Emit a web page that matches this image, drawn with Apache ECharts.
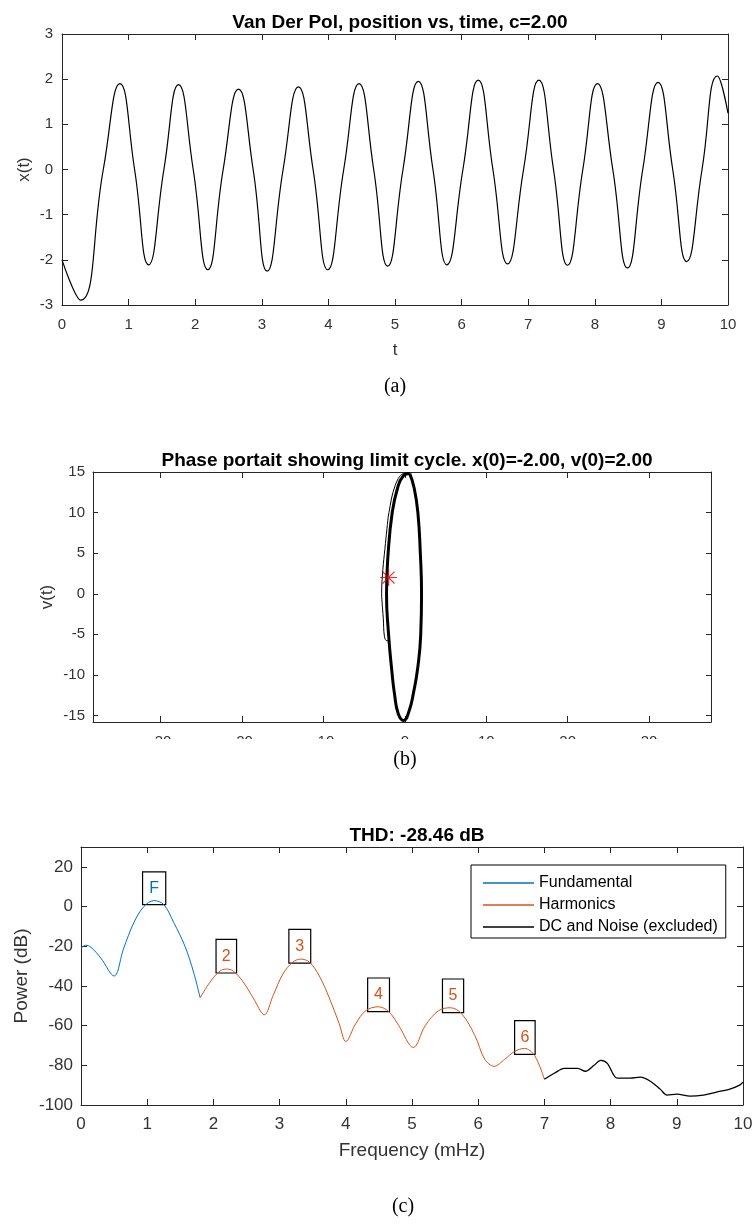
<!DOCTYPE html>
<html><head><meta charset="utf-8">
<script src="https://cdn.jsdelivr.net/npm/echarts@6/dist/echarts.min.js"></script>
<style>html,body{margin:0;padding:0;background:#fff}#c{width:755px;height:1224px}</style>
</head><body><div id="c"></div>
<script>
// ---------- (a) Van der Pol position vs time ----------
const timeS = [0, 0.28, 0.62, 0.87, 1.09, 1.30, 1.53, 1.75, 1.97, 2.19, 2.42, 2.65, 2.87, 3.08, 3.32, 3.55, 3.77, 3.99, 4.23, 4.46, 4.68, 4.89, 5.12, 5.35, 5.57, 5.78, 6.02, 6.25, 6.47, 6.69, 6.93, 7.16, 7.38, 7.59, 7.82, 8.04, 8.27, 8.49, 8.72, 8.95, 9.17, 9.38, 9.61, 9.84, 10];
const positionX = [-2.0, -2.89, 0, 1.90, 0, -2.11, 0, 1.88, 0, -2.22, 0, 1.78, 0, -2.25, 0, 1.83, 0, -2.22, 0, 1.90, 0, -2.14, 0, 1.95, 0, -2.11, 0, 1.98, 0, -2.09, 0, 1.98, 0, -2.12, 0, 1.90, 0, -2.18, 0, 1.93, 0, -2.04, 0, 2.07, 1.25];

// ---------- (b) Phase portrait ----------
const cycleX = [0.6, 1.15, 1.6, 1.9, 2.05, 1.95, 1.6, 1.1, 0.5, -0.15, -0.8, -1.25, -1.6, -2.0, -2.25, -2.05, -1.55, -0.9, -0.2, 0.6];
const cycleV = [14.8, 13, 10, 5, 0, -5, -9, -12, -14.5, -15.6, -14.8, -12.5, -9.5, -5, 0, 5, 10, 13, 14.5, 14.8];
const transX = [-1.85, -2.2, -2.5, -2.65, -2.8, -2.85, -2.7, -2.45, -2.2, -1.95, -1.2, -0.2, 0.6];
const transV = [-5.7, -5.8, -5.3, -3, -1, 0, 3, 5.5, 8, 10, 13.3, 14.8, 14.9];
const startPoint = [-2, 2];
const phaseXTicks = [-30, -20, -10, 0, 10, 20, 30];
const phaseVTicks = [-15, -10, -5, 0, 5, 10, 15];

// ---------- (c) THD spectrum ----------
const fundFreq = [0, 0.07, 0.15, 0.3, 0.5, 0.64, 0.8, 0.95, 1.1, 1.25, 1.4, 1.57, 1.7, 1.8];
const fundPow = [-21, -19.5, -20.5, -26, -35, -21.5, -8, 0, 3, 1, -8, -20, -33, -46];
const harmFreq = [1.8, 1.95, 2.1, 2.2, 2.3, 2.45, 2.6, 2.77, 2.9, 3.05, 3.2, 3.32, 3.45, 3.6, 3.75, 3.9, 4.0, 4.15, 4.3, 4.49, 4.65, 4.8, 5.02, 5.2, 5.4, 5.58, 5.75, 5.95, 6.1, 6.24, 6.4, 6.55, 6.7, 6.85, 7.0];
const harmPow = [-46, -38, -32.5, -31.5, -32.5, -38, -46, -54.5, -45, -34, -28, -26.5, -28, -35, -46, -59, -68, -59, -52.5, -50.5, -53, -60, -71, -60, -52.5, -51, -54, -65, -77, -80.5, -77, -73, -71.5, -75, -87];
const noiseFreq = [7.0, 7.15, 7.3, 7.5, 7.62, 7.75, 7.85, 7.95, 8.1, 8.3, 8.45, 8.6, 8.75, 8.85, 9.0, 9.2, 9.4, 9.6, 9.8, 9.95, 10];
const noisePow = [-87, -84, -81.5, -81.5, -83, -80, -77.5, -79, -86.5, -86.5, -86, -88, -92, -95, -94.5, -95.5, -95, -93.5, -92, -90, -88.5];
const boxLabels = ['F', '2', '3', '4', '5', '6'];
const boxFreqLo = [0.93, 2.04, 3.14, 4.33, 5.46, 6.55];
const boxFreqHi = [1.28, 2.35, 3.47, 4.66, 5.78, 6.86];
const boxPowLo = [1, -33.5, -28.5, -53, -53.5, -74.5];
const boxPowHi = [17.5, -16.5, -11.5, -36, -36.5, -57.5];
const powerTicks = [-100, -80, -60, -40, -20, 0, 20];
const legendNames = ['Fundamental', 'Harmonics', 'DC and Noise (excluded)'];

const FONT = '"Liberation Sans", Arial, Helvetica, sans-serif';
const AX = '#262626';
const TXT = '#333';
const BLUE = '#0072BD', ORANGE = '#D95319';

const zip = (a, b) => a.map((v, i) => [v, b[i]]);

function axis(dim, grid, position, o) {
  const main = position === 'bottom' || position === 'left';
  const ax = {
    type: 'value', gridIndex: grid, position: position,
    min: o.min, max: o.max,
    axisLine: {show: true, onZero: false, lineStyle: {color: AX, width: 1}},
    axisTick: {show: true, inside: true, length: o.tickLen || 6, lineStyle: {color: AX, width: 1}},
    axisLabel: {show: main, margin: o.margin, fontSize: o.fs, color: TXT, fontFamily: FONT},
    splitLine: {show: false},
    nameMoveOverlap: false
  };
  if (o.interval !== undefined) ax.interval = o.interval;
  if (o.ticks) { ax.axisTick.customValues = o.ticks; ax.axisLabel.customValues = o.ticks; }
  if (main && o.name) {
    ax.name = o.name; ax.nameLocation = 'middle'; ax.nameGap = o.nameGap;
    ax.nameTextStyle = {fontSize: o.nameFs, color: TXT, fontFamily: FONT};
  }
  return ax;
}

const aX = {min: 0, max: 10, interval: 1, margin: 12, fs: 15, name: 't', nameGap: 37, nameFs: 17};
const aY = {min: -3, max: 3, interval: 1, margin: 9, fs: 15, name: 'x(t)', nameGap: 29, nameFs: 17};
const bX = {min: -38.3, max: 37.6, ticks: phaseXTicks, margin: 12, fs: 15};
const bY = {min: -15.8, max: 15, ticks: phaseVTicks, margin: 8, fs: 15, tickLen: 5, name: 'v(t)', nameGap: 37, nameFs: 17};
const cX = {min: 0, max: 10, interval: 1, margin: 11, fs: 17, name: 'Frequency (mHz)', nameGap: 36, nameFs: 19};
const cY = {min: -100, max: 30, ticks: powerTicks, margin: 8, fs: 17, name: 'Power (dB)', nameGap: 50, nameFs: 19};

const boxAreas = (idx) => idx.map(i => [
  {name: boxLabels[i], xAxis: boxFreqLo[i], yAxis: boxPowHi[i]},
  {xAxis: boxFreqHi[i], yAxis: boxPowLo[i]}
]);
const boxStyle = (color) => ({
  silent: true,
  itemStyle: {color: 'rgba(0,0,0,0)', borderColor: '#000', borderWidth: 1.2},
  label: {show: true, position: 'inside', color: color, fontSize: 16, fontFamily: FONT}
});

const option = {
  animation: false,
  backgroundColor: '#fff',
  title: [
    {text: 'Van Der Pol, position vs, time, c=2.00', left: 395, top: 8, textAlign: 'center',
     textStyle: {fontSize: 19, fontWeight: 'bold', color: '#000', fontFamily: FONT}},
    {text: 'Phase portait showing limit cycle. x(0)=-2.00, v(0)=2.00', left: 402, top: 446, textAlign: 'center',
     textStyle: {fontSize: 19, fontWeight: 'bold', color: '#000', fontFamily: FONT}},
    {text: 'THD: -28.46 dB', left: 412, top: 821, textAlign: 'center',
     textStyle: {fontSize: 19, fontWeight: 'bold', color: '#000', fontFamily: FONT}}
  ],
  grid: [
    {left: 62, top: 34, width: 666, height: 271, outerBoundsMode: 'none', containLabel: false},
    {left: 93, top: 472, width: 618, height: 250, outerBoundsMode: 'none', containLabel: false},
    {left: 81, top: 847, width: 662, height: 258, outerBoundsMode: 'none', containLabel: false}
  ],
  xAxis: [
    axis('x', 0, 'bottom', aX), axis('x', 0, 'top', aX),
    axis('x', 1, 'bottom', bX), axis('x', 1, 'top', bX),
    axis('x', 2, 'bottom', cX), axis('x', 2, 'top', cX)
  ],
  yAxis: [
    axis('y', 0, 'left', aY), axis('y', 0, 'right', aY),
    axis('y', 1, 'left', bY), axis('y', 1, 'right', bY),
    axis('y', 2, 'left', cY), axis('y', 2, 'right', cY)
  ],
  legend: {
    data: legendNames, left: 471, top: 865, orient: 'vertical', selectedMode: false,
    icon: 'rect', padding: [10, 8, 3, 12], itemGap: 6, itemWidth: 51, itemHeight: 1.5,
    borderColor: '#000', borderWidth: 1, backgroundColor: '#fff',
    textStyle: {fontSize: 16, color: '#000', fontFamily: FONT, lineHeight: 16}
  },
  series: [
    {type: 'line', xAxisIndex: 0, yAxisIndex: 0, data: zip(timeS, positionX), smooth: 0.5,
     symbol: 'none', lineStyle: {color: '#000', width: 1.2}},
    {type: 'line', xAxisIndex: 2, yAxisIndex: 2, data: zip(transX, transV), smooth: 0.4,
     symbol: 'none', lineStyle: {color: '#000', width: 1}},
    {type: 'line', xAxisIndex: 2, yAxisIndex: 2, data: zip(cycleX, cycleV), smooth: 0.5,
     symbol: 'none', lineStyle: {color: '#000', width: 3}},
    {type: 'scatter', xAxisIndex: 2, yAxisIndex: 2, data: [startPoint], symbolSize: 17,
     symbol: 'path://M0,-10L0,10M-10,0L10,0M-7,-7L7,7M-7,7L7,-7',
     itemStyle: {color: 'rgba(0,0,0,0)', borderColor: '#e00000', borderWidth: 1.2}, z: 5},
    {name: legendNames[0], type: 'line', xAxisIndex: 4, yAxisIndex: 4, data: zip(fundFreq, fundPow), smooth: 0.35,
     symbol: 'none', lineStyle: {color: BLUE, width: 1}, itemStyle: {color: BLUE},
     markArea: Object.assign(boxStyle(BLUE), {data: boxAreas([0])})},
    {name: legendNames[1], type: 'line', xAxisIndex: 4, yAxisIndex: 4, data: zip(harmFreq, harmPow), smooth: 0.35,
     symbol: 'none', lineStyle: {color: ORANGE, width: 1}, itemStyle: {color: ORANGE},
     markArea: Object.assign(boxStyle(ORANGE), {data: boxAreas([1, 2, 3, 4, 5])})},
    {name: legendNames[2], type: 'line', xAxisIndex: 4, yAxisIndex: 4, data: zip(noiseFreq, noisePow), smooth: 0.3,
     symbol: 'none', lineStyle: {color: '#000', width: 1.3}, itemStyle: {color: '#000'}}
  ],
  graphic: [
    {type: 'rect', shape: {x: 60, y: 739, width: 680, height: 12}, style: {fill: '#fff'}, z: 100, silent: true},
    {type: 'text', x: 395, y: 387, z: 101, style: {text: '(a)', fontSize: 20, fontFamily: '"Liberation Serif", "Times New Roman", serif', fill: '#000', textAlign: 'center', textVerticalAlign: 'middle'}},
    {type: 'text', x: 405, y: 760, z: 101, style: {text: '(b)', fontSize: 20, fontFamily: '"Liberation Serif", "Times New Roman", serif', fill: '#000', textAlign: 'center', textVerticalAlign: 'middle'}},
    {type: 'text', x: 403, y: 1207, z: 101, style: {text: '(c)', fontSize: 20, fontFamily: '"Liberation Serif", "Times New Roman", serif', fill: '#000', textAlign: 'center', textVerticalAlign: 'middle'}}
  ]
};
const chart = echarts.init(document.getElementById('c'), null, {renderer: 'canvas'});
chart.setOption(option);
</script>
</body></html>
